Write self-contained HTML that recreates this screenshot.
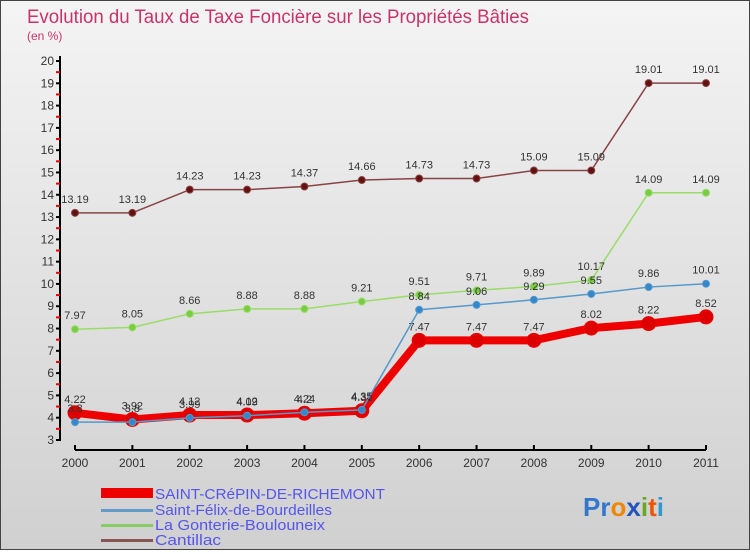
<!DOCTYPE html>
<html><head><meta charset="utf-8"><style>
body{margin:0;width:750px;height:550px;overflow:hidden;font-family:"Liberation Sans",sans-serif}
#wrap{position:relative;width:748px;height:548px;border:1px solid #444;background:linear-gradient(#f4f4f4,#d0d0d0)}
</style></head><body>
<div id="wrap">
<svg id="chart" width="748" height="548">
<text x="26" y="22" font-size="19" fill="#c8346a" textLength="502" lengthAdjust="spacingAndGlyphs">Evolution du Taux de Taxe Foncière sur les Propriétés Bâties</text>
<text x="26" y="39" font-size="12" fill="#c8346a">(en %)</text>
<g id="axes"></g><g id="series"></g>
<g>
<rect x="100" y="487" width="52" height="10" fill="#ee0000"/>
<text x="154" y="498" font-size="15" fill="#5555ee" textLength="230" lengthAdjust="spacingAndGlyphs">SAINT-CRéPIN-DE-RICHEMONT</text>
<rect x="100" y="508" width="52" height="3" fill="#6699cc"/>
<text x="154" y="514" font-size="15" fill="#5555ee" textLength="177" lengthAdjust="spacingAndGlyphs">Saint-Félix-de-Bourdeilles</text>
<rect x="100" y="523" width="52" height="3" fill="#88cc66"/>
<text x="154" y="529" font-size="15" fill="#5555ee" textLength="170" lengthAdjust="spacingAndGlyphs">La Gonterie-Boulouneix</text>
<rect x="100" y="538" width="52" height="3" fill="#885555"/>
<text x="154" y="544" font-size="15" fill="#5555ee" textLength="66" lengthAdjust="spacingAndGlyphs">Cantillac</text>
</g>
<text x="582" y="515" font-size="26" font-weight="bold"><tspan fill="#3377cc">Pr</tspan><tspan fill="#ee8800">o</tspan><tspan fill="#2255bb">x</tspan><tspan fill="#66aa22">i</tspan><tspan fill="#ee5500">t</tspan><tspan fill="#3399cc">i</tspan></text>
</svg></div>
<script>
const years=["2000","2001","2002","2003","2004","2005","2006","2007","2008","2009","2010","2011"];
const yTicks=[3,4,5,6,7,8,9,10,11,12,13,14,15,16,17,18,19,20];
const crepin=[4.22,3.92,4.12,4.12,4.2,4.31,7.47,7.47,7.47,8.02,8.22,8.52];
const felix=[3.8,3.8,3.99,4.09,4.24,4.35,8.84,9.06,9.29,9.55,9.86,10.01];
const gonterie=[7.97,8.05,8.66,8.88,8.88,9.21,9.51,9.71,9.89,10.17,14.09,14.09];
const cantillac=[13.19,13.19,14.23,14.23,14.37,14.66,14.73,14.73,15.09,15.09,19.01,19.01];
const NS="http://www.w3.org/2000/svg";
const xs=i=>74+i*(705-74)/11;
const ys=v=>439-(v-3)*(379/17);
function mk(t,a,p){const e=document.createElementNS(NS,t);for(const k in a)e.setAttribute(k,a[k]);p.appendChild(e);return e;}
const ax=document.getElementById('axes');
let l=mk('line',{x1:59,y1:ys(20)-5,x2:59,y2:ys(3),stroke:'#000','stroke-width':2},ax);


l=mk('line',{x1:xs(0),y1:449,x2:xs(11),y2:449,stroke:'#000','stroke-width':2},ax);


yTicks.forEach(v=>{
 mk('line',{x1:55,y1:ys(v),x2:60,y2:ys(v),stroke:'#000','stroke-width':2},ax);
 if(v<20)mk('line',{x1:55,y1:ys(v+0.5),x2:59,y2:ys(v+0.5),stroke:'#e00','stroke-width':2},ax);
 const t=mk('text',{x:53,y:ys(v)+4,'font-size':12,fill:'#333','text-anchor':'end'},ax);t.textContent=v;
 
 
});
years.forEach((y,i)=>{
 mk('line',{x1:xs(i),y1:444,x2:xs(i),y2:449,stroke:'#000','stroke-width':2},ax);
 const t=mk('text',{x:xs(i),y:466,'font-size':12,fill:'#333','text-anchor':'middle'},ax);t.textContent=y;
 
 
});
const sg=document.getElementById('series');
function draw(d,name,col,w,r,dot){
 const g=mk('g',{},sg);
 
 
 mk('polyline',{points:d.map((v,i)=>xs(i)+','+ys(v)).join(' '),fill:'none',stroke:col,'stroke-width':w,'stroke-linejoin':'round'},g);
 d.forEach((v,i)=>{
  const c=mk('circle',{cx:xs(i),cy:ys(v),r:r,fill:dot,stroke:col,'stroke-width':1},g);
  
  
  const t=mk('text',{x:xs(i),y:ys(v)-10,'font-size':11,fill:'#333','text-anchor':'middle'},g);t.textContent=v;
  
  
 });
}
draw(cantillac,'cantillac','#884444',1.5,3.5,'#661111');
draw(gonterie,'la-gonterie','#99dd66',1.5,3.5,'#77cc44');
draw(crepin,'saint-crepin','#ee0000',8,7,'#dd0000');
draw(felix,'saint-felix','#5599cc',1.5,3.5,'#3388cc');
</script>
</body></html>
